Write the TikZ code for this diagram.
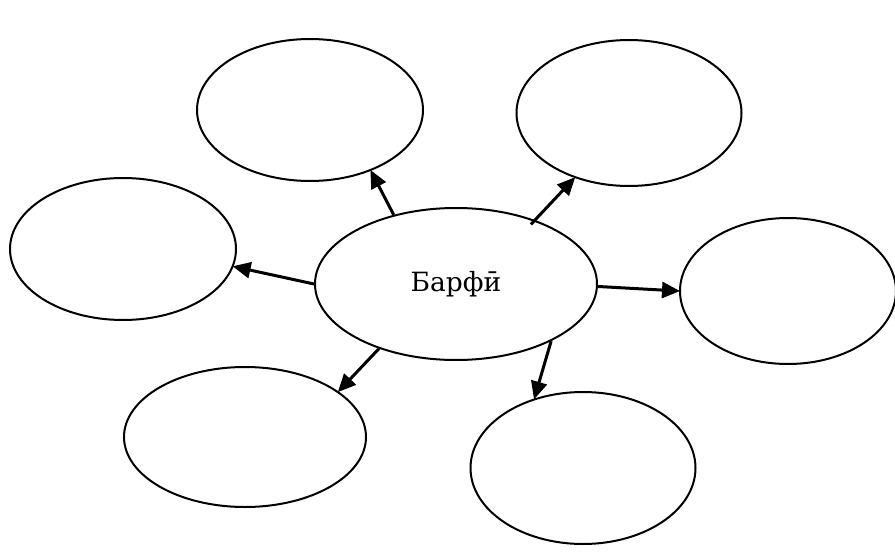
\documentclass[tikz,border=0pt]{standalone}
\usepackage{fontspec}
\setmainfont{DejaVu Serif}
\usetikzlibrary{shapes.geometric,arrows.meta}
\tikzset{
  bubble/.style={draw=black, ellipse, line width=2pt, inner sep=0pt},
  link/.style={line width=3pt, -{Triangle[length=18pt,width=16pt]}, shorten >=-1pt}
}
\begin{document}
\begin{tikzpicture}[x=1pt,y=-1pt]
\useasboundingbox (0,0) rectangle (895,554);
\fill[white] (0,0) rectangle (895,554);
\node[bubble, minimum width=282pt, minimum height=152pt, font=\fontsize{26.5}{30}\selectfont] (c) at (456,284) {Барфӣ};
\node[bubble, minimum width=226pt, minimum height=142pt] (tl) at (310,110) {};
\node[bubble, minimum width=225pt, minimum height=146pt] (tr) at (629,113) {};
\node[bubble, minimum width=226pt, minimum height=142pt] (l) at (123,249) {};
\node[bubble, minimum width=216pt, minimum height=146pt] (r) at (788,291) {};
\node[bubble, minimum width=242pt, minimum height=140pt] (bl) at (245,437) {};
\node[bubble, minimum width=225pt, minimum height=152pt] (br) at (583,468) {};
\draw[link] (c.132) -- (tl.-45.5);
\draw[link, shorten <=-6pt] (c.39.3) -- (tr.230.3);
\draw[link] (c.180) -- (l.-9.1);
\draw[link] (c.-1.2) -- (r.180);
\draw[link] (c.220.8) -- (bl.26.3);
\draw[link] (c.-31.2) -- (br.125.5);
\end{tikzpicture}
\end{document}
